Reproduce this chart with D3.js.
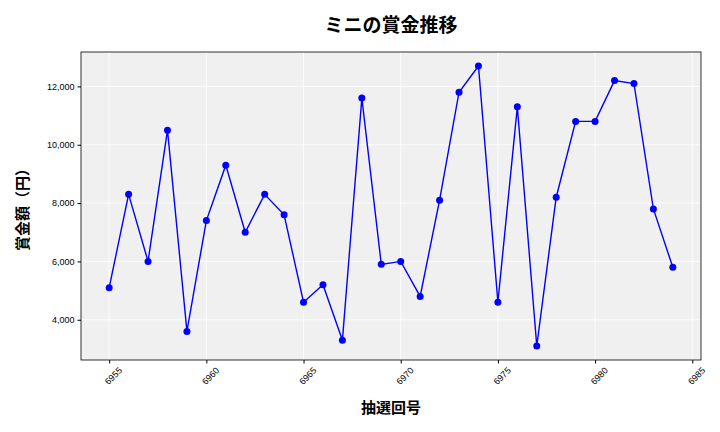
<!DOCTYPE html>
<html><head><meta charset="utf-8">
<script src="https://cdn.jsdelivr.net/npm/d3@7"></script>
<style>body{margin:0;background:#fff;font-family:"Noto Sans CJK JP","Noto Sans",sans-serif;}</style>
</head><body>
<svg id="chart" width="720" height="432"></svg>
<script>
// draw numbers and prize values
var draws = [6955,6956,6957,6958,6959,6960,6961,6962,6963,6964,6965,6966,6967,6968,6969,
  6970,6971,6972,6973,6974,6975,6976,6977,6978,6979,6980,6981,6982,6983,6984];
var prizes = [5100,8300,6000,10500,3600,7400,9300,7000,8300,7600,4600,5200,3300,11600,5900,
  6000,4800,8100,11800,12700,4600,11300,3100,8200,10800,10800,12200,12100,7800,5800];
var xTicks = [6955,6960,6965,6970,6975,6980,6985];
var yTicks = [4000,6000,8000,10000,12000];

var svg = d3.select("#chart");
var m = {l: 81, r: 701, t: 52, b: 360};

var x = d3.scaleLinear().domain([6953.55, 6985.45]).range([m.l, m.r]);
var y = d3.scaleLinear().domain([2620, 13180]).range([m.b, m.t]);

svg.append("rect").attr("x", m.l).attr("y", m.t)
  .attr("width", m.r - m.l).attr("height", m.b - m.t).attr("fill", "#f0f0f0");

// grid
svg.selectAll(".gx").data(xTicks).enter().append("line")
  .attr("x1", d => x(d)).attr("x2", d => x(d)).attr("y1", m.t).attr("y2", m.b)
  .attr("stroke", "#fff").attr("stroke-width", 0.8);
svg.selectAll(".gy").data(yTicks).enter().append("line")
  .attr("y1", d => y(d)).attr("y2", d => y(d)).attr("x1", m.l).attr("x2", m.r)
  .attr("stroke", "#fff").attr("stroke-width", 0.8);

svg.append("rect").attr("x", m.l).attr("y", m.t)
  .attr("width", m.r - m.l).attr("height", m.b - m.t)
  .attr("fill", "none").attr("stroke", "#000").attr("stroke-width", 0.8);

// axes
var xAxis = svg.append("g").attr("transform", "translate(0," + m.b + ")")
  .call(d3.axisBottom(x).tickValues(xTicks).tickFormat(d3.format("d")).tickSize(3.5));
xAxis.select(".domain").remove();
xAxis.selectAll("text").attr("font-size", 9).attr("text-anchor", "end")
  .attr("transform", "translate(4,2) rotate(-45)").attr("dy", "0.7em");

var yAxis = svg.append("g").attr("transform", "translate(" + m.l + ",0)")
  .call(d3.axisLeft(y).tickValues(yTicks).tickFormat(d3.format(",")).tickSize(3.5));
yAxis.select(".domain").remove();
yAxis.selectAll("text").attr("font-size", 9);

// line and points
svg.append("path").datum(draws.map((d, i) => [d, prizes[i]]))
  .attr("fill", "none").attr("stroke", "#0000ff").attr("stroke-width", 1.4)
  .attr("d", d3.line().x(d => x(d[0])).y(d => y(d[1])));
svg.selectAll(".pt").data(draws).enter().append("circle")
  .attr("cx", d => x(d)).attr("cy", (d, i) => y(prizes[i])).attr("r", 3.5)
  .attr("fill", "#0000ff");

// labels
svg.append("text").attr("x", 391).attr("y", 32).attr("text-anchor", "middle")
  .attr("font-size", 19).attr("font-weight", "bold").text("ミニの賞金推移");
svg.append("text").attr("x", 391).attr("y", 413).attr("text-anchor", "middle")
  .attr("font-size", 15).attr("font-weight", "bold").text("抽選回号");
svg.append("text").attr("transform", "translate(28,206) rotate(-90)")
  .attr("text-anchor", "middle").attr("font-size", 15).attr("font-weight", "bold")
  .text("賞金額（円）");
</script>
</body></html>
